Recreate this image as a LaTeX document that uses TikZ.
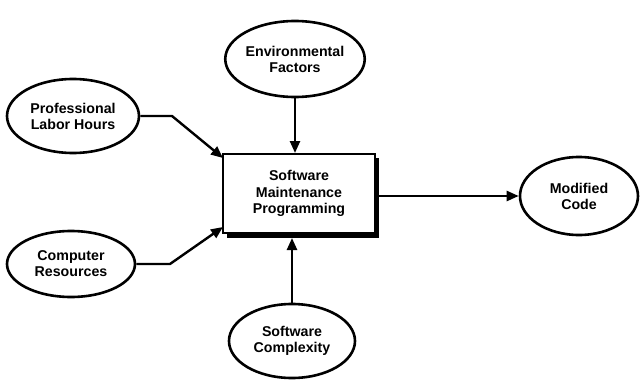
\documentclass[tikz,border=0pt]{standalone}
\usepackage{fontspec}
\setmainfont{Liberation Sans}
\usetikzlibrary{shapes.geometric,arrows.meta}
\tikzset{
  oval/.style={ellipse, draw=black, line width=2.6pt, fill=white, inner sep=0pt,
    align=center, font=\bfseries\fontsize{14.2}{16}\selectfont},
  procbox/.style={rectangle, draw=black, line width=2pt, fill=white, inner sep=0pt,
    align=center, font=\bfseries\fontsize{14.2}{16.5}\selectfont},
  arr/.style={line width=2.4pt, -{Triangle[length=12pt,width=10pt]}, line join=miter}
}
\begin{document}
\begin{tikzpicture}[x=1pt,y=-1pt]
\useasboundingbox (0,0) rectangle (641,380);
% shadow of box
\fill[black] (227,158) rectangle (378.5,238);
\node[procbox, minimum width=152pt, minimum height=79pt] (box) at (299,193.5)
  {Software\\Maintenance\\Programming};
\coordinate (shb) at (292,238);

\node[oval, minimum width=126pt, minimum height=76pt] (env) at (295,59) {Environmental\\Factors};
\node[oval, minimum width=132pt, minimum height=74pt] (pro) at (73,116) {Professional\\Labor Hours};
\node[oval, minimum width=128pt, minimum height=66pt] (com) at (71,264) {Computer\\Resources};
\node[oval, minimum width=126pt, minimum height=74pt] (cpx) at (292,341) {Software\\Complexity};
\node[oval, minimum width=118pt, minimum height=78pt] (mod) at (579,196) {Modified\\Code};

\coordinate (pbend) at (172,116);
\coordinate (cbend) at (170,264);
\coordinate (pin) at (223,158);
\coordinate (cin) at (223,227);

\draw[arr] (env.south) -- (env.south |- box.north);
\draw[arr] (pro.east) -- (pbend) -- (pin);
\draw[arr] (com.east) -- (cbend) -- (cin);
\draw[arr] (cpx.north) -- (shb);
\draw[arr] (box.east |- mod.west) -- (mod.west);
\end{tikzpicture}
\end{document}
